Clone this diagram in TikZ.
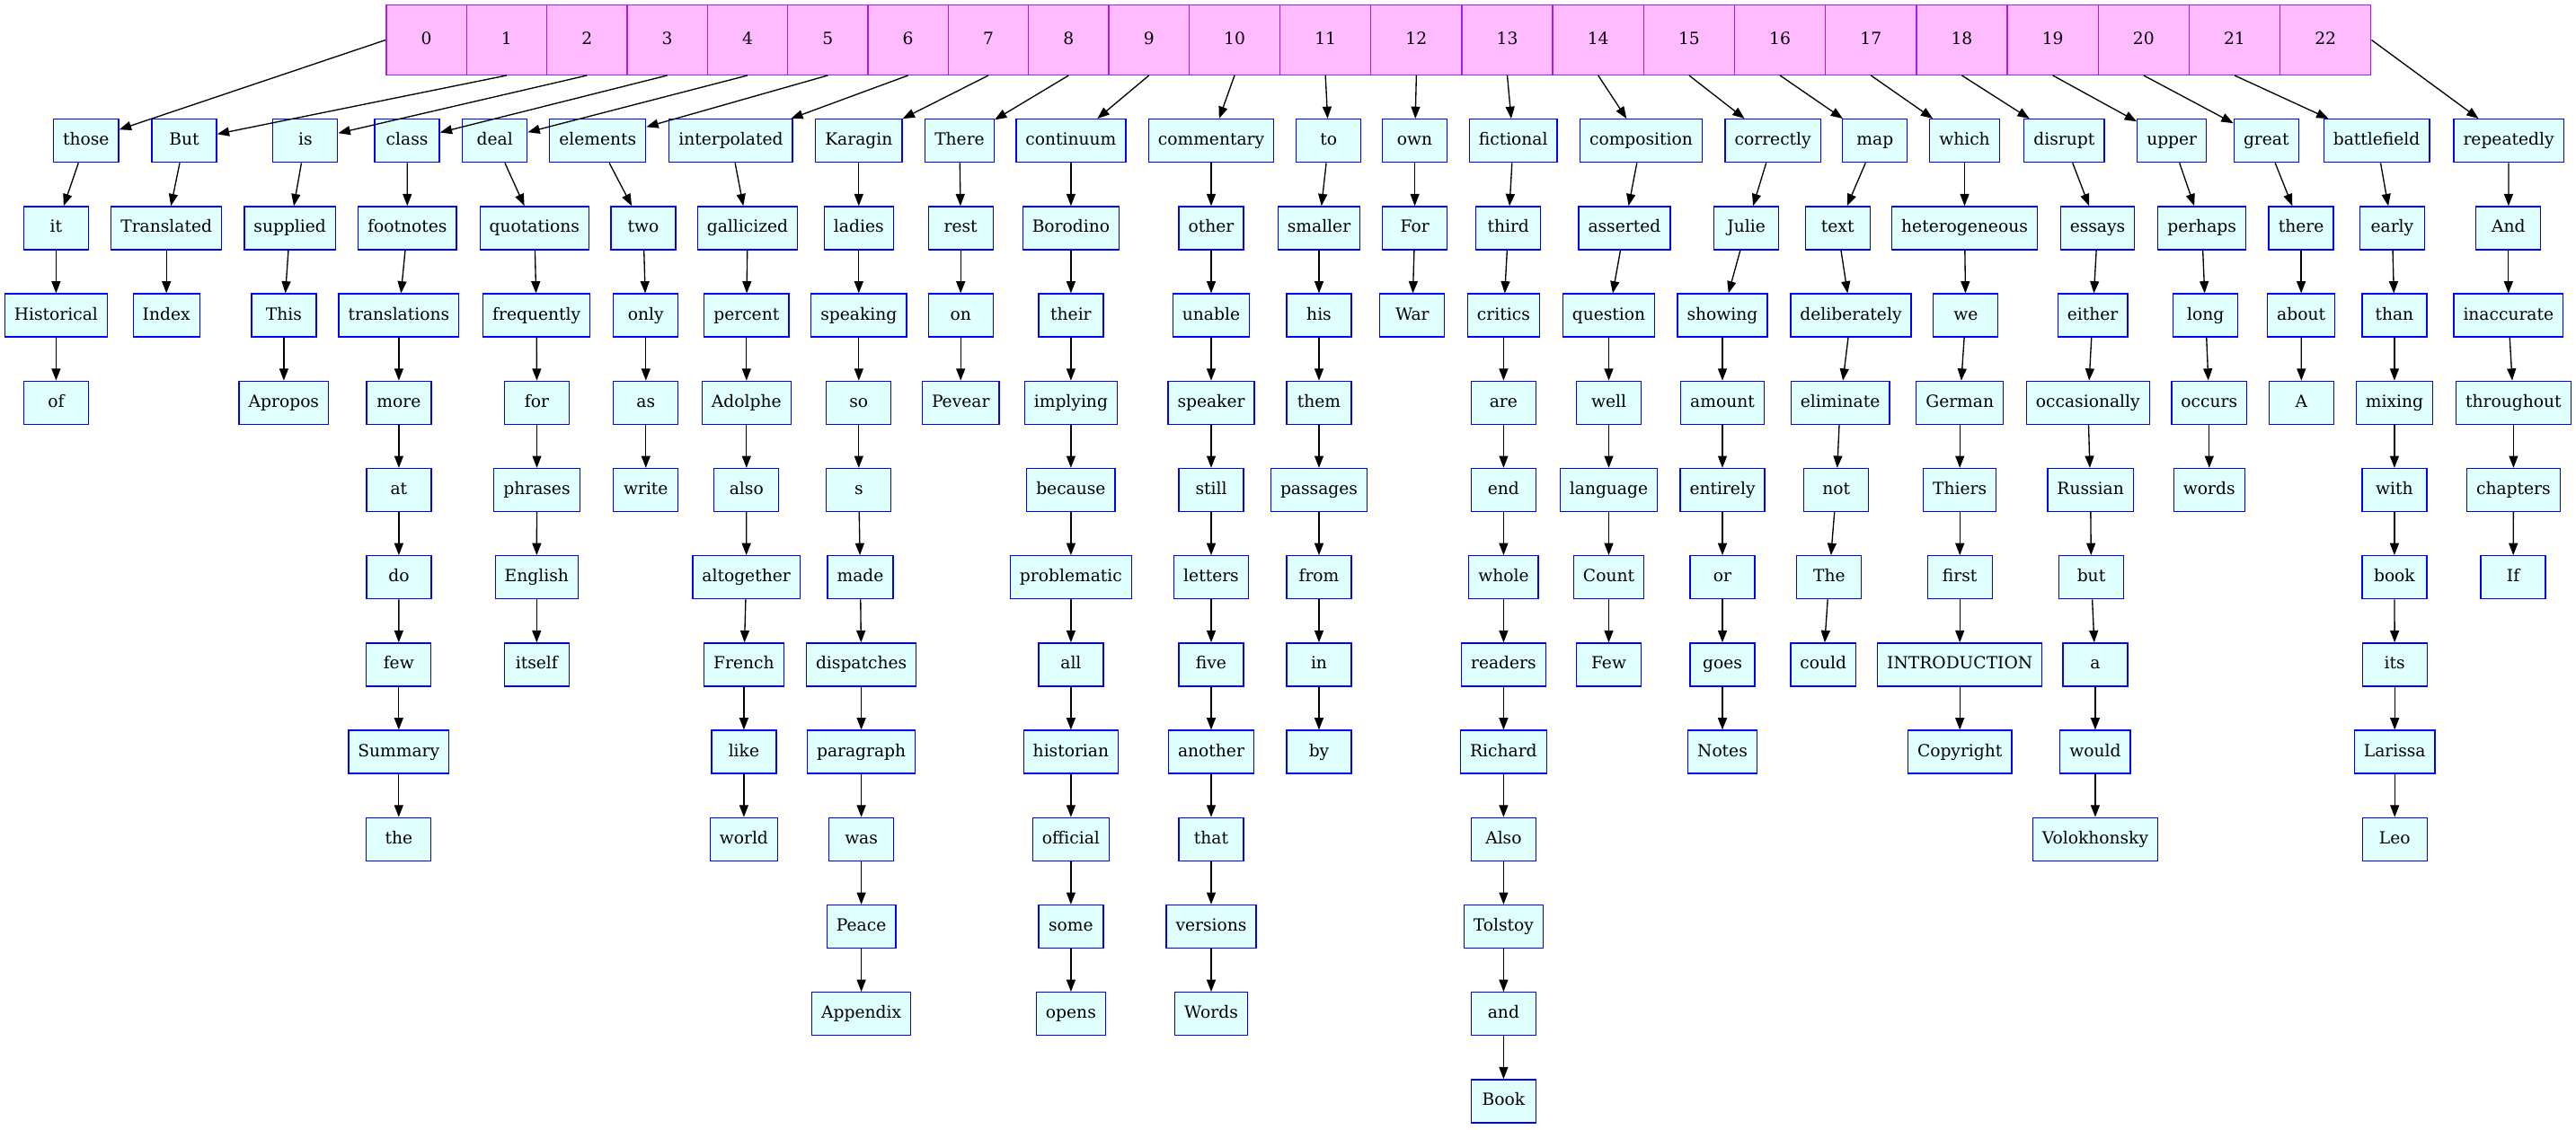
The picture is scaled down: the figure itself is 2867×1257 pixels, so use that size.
\documentclass[tikz,border=0pt]{standalone}
\usepackage{fontspec}
\setmainfont{DejaVu Serif}
\usetikzlibrary{arrows.meta}
\definecolor{boxfill}{HTML}{E0FFFF}
\definecolor{boxline}{HTML}{0000FF}
\definecolor{recfill}{HTML}{FFBBFF}
\definecolor{recline}{HTML}{A020F0}
\newcommand{\mkword}[4]{\node[wbox] (#1) at (#2,{156.7+97.2*#3}) {#4};}
\begin{document}
\begin{tikzpicture}[x=0.75pt,y=-0.75pt,
  wbox/.style={draw=boxline, fill=boxfill, line width=1pt, rectangle, minimum width=54pt, minimum height=36pt, inner xsep=7.92pt, inner ysep=0pt, text height=10pt, text depth=2.5pt, font=\fontsize{14}{16}\selectfont},
  rcell/.style={draw=recline, fill=recfill, line width=1pt, rectangle, minimum height=58.2pt, inner sep=0pt, text height=10pt, text depth=2.5pt, font=\fontsize{14}{16}\selectfont},
  edge/.style={draw=black, line width=1pt, -{Triangle[length=10pt,width=7.5pt]}}]
\useasboundingbox (0,0) rectangle (2867,1257);
% record
\foreach \i in {0,...,9} {\node[rcell, minimum width=67.01pt] (r\i) at ({429.9+89.35*(\i+0.5)},44.5) {\i};}
\foreach \i in {10,...,22} {\node[rcell, minimum width=75.89pt] (r\i) at ({1323.4+101.18*(\i-10+0.5)},44.5) {\i};}
% col 0
\mkword{c0-0}{95.8}{0}{those}
\mkword{c0-1}{62.4}{1}{it}
\mkword{c0-2}{62.4}{2}{Historical}
\mkword{c0-3}{62.4}{3}{of}
% col 1
\mkword{c1-0}{205.1}{0}{But}
\mkword{c1-1}{185.2}{1}{Translated}
\mkword{c1-2}{185.2}{2}{Index}
% col 2
\mkword{c2-0}{339.8}{0}{is}
\mkword{c2-1}{322.7}{1}{supplied}
\mkword{c2-2}{315.9}{2}{This}
\mkword{c2-3}{315.9}{3}{Apropos}
% col 3
\mkword{c3-0}{453.1}{0}{class}
\mkword{c3-1}{453.4}{1}{footnotes}
\mkword{c3-2}{443.9}{2}{translations}
\mkword{c3-3}{443.9}{3}{more}
\mkword{c3-4}{443.9}{4}{at}
\mkword{c3-5}{443.9}{5}{do}
\mkword{c3-6}{443.8}{6}{few}
\mkword{c3-7}{443.8}{7}{Summary}
\mkword{c3-8}{443.8}{8}{the}
% col 4
\mkword{c4-0}{550.7}{0}{deal}
\mkword{c4-1}{594.8}{1}{quotations}
\mkword{c4-2}{597.2}{2}{frequently}
\mkword{c4-3}{597.5}{3}{for}
\mkword{c4-4}{597.5}{4}{phrases}
\mkword{c4-5}{597.3}{5}{English}
\mkword{c4-6}{597.3}{6}{itself}
% col 5
\mkword{c5-0}{665.2}{0}{elements}
\mkword{c5-1}{716.0}{1}{two}
\mkword{c5-2}{718.8}{2}{only}
\mkword{c5-3}{718.8}{3}{as}
\mkword{c5-4}{718.8}{4}{write}
% col 6
\mkword{c6-0}{813.4}{0}{interpolated}
\mkword{c6-1}{832.0}{1}{gallicized}
\mkword{c6-2}{830.8}{2}{percent}
\mkword{c6-3}{830.8}{3}{Adolphe}
\mkword{c6-4}{830.8}{4}{also}
\mkword{c6-5}{830.6}{5}{altogether}
\mkword{c6-6}{827.9}{6}{French}
\mkword{c6-7}{827.9}{7}{like}
\mkword{c6-8}{827.9}{8}{world}
% col 7
\mkword{c7-0}{955.8}{0}{Karagin}
\mkword{c7-1}{955.8}{1}{ladies}
\mkword{c7-2}{955.8}{2}{speaking}
\mkword{c7-3}{955.8}{3}{so}
\mkword{c7-4}{955.8}{4}{s}
\mkword{c7-5}{957.5}{5}{made}
\mkword{c7-6}{958.6}{6}{dispatches}
\mkword{c7-7}{958.6}{7}{paragraph}
\mkword{c7-8}{958.6}{8}{was}
\mkword{c7-9}{958.6}{9}{Peace}
\mkword{c7-10}{958.6}{10}{Appendix}
% col 8
\mkword{c8-0}{1068.0}{0}{There}
\mkword{c8-1}{1069.2}{1}{rest}
\mkword{c8-2}{1069.2}{2}{on}
\mkword{c8-3}{1069.2}{3}{Pevear}
% col 9
\mkword{c9-0}{1191.9}{0}{continuum}
\mkword{c9-1}{1191.9}{1}{Borodino}
\mkword{c9-2}{1191.9}{2}{their}
\mkword{c9-3}{1191.9}{3}{implying}
\mkword{c9-4}{1191.9}{4}{because}
\mkword{c9-5}{1191.9}{5}{problematic}
\mkword{c9-6}{1191.9}{6}{all}
\mkword{c9-7}{1191.9}{7}{historian}
\mkword{c9-8}{1191.9}{8}{official}
\mkword{c9-9}{1191.9}{9}{some}
\mkword{c9-10}{1191.9}{10}{opens}
% col 10
\mkword{c10-0}{1348.0}{0}{commentary}
\mkword{c10-1}{1348.0}{1}{other}
\mkword{c10-2}{1348.0}{2}{unable}
\mkword{c10-3}{1348.0}{3}{speaker}
\mkword{c10-4}{1348.0}{4}{still}
\mkword{c10-5}{1348.0}{5}{letters}
\mkword{c10-6}{1348.0}{6}{five}
\mkword{c10-7}{1348.0}{7}{another}
\mkword{c10-8}{1348.0}{8}{that}
\mkword{c10-9}{1348.0}{9}{versions}
\mkword{c10-10}{1348.0}{10}{Words}
% col 11
\mkword{c11-0}{1478.8}{0}{to}
\mkword{c11-1}{1468.0}{1}{smaller}
\mkword{c11-2}{1468.0}{2}{his}
\mkword{c11-3}{1468.0}{3}{them}
\mkword{c11-4}{1468.0}{4}{passages}
\mkword{c11-5}{1468.0}{5}{from}
\mkword{c11-6}{1468.0}{6}{in}
\mkword{c11-7}{1468.0}{7}{by}
% col 12
\mkword{c12-0}{1574.6}{0}{own}
\mkword{c12-1}{1574.6}{1}{For}
\mkword{c12-2}{1571.8}{2}{War}
% col 13
\mkword{c13-0}{1684.2}{0}{fictional}
\mkword{c13-1}{1678.7}{1}{third}
\mkword{c13-2}{1673.4}{2}{critics}
\mkword{c13-3}{1673.4}{3}{are}
\mkword{c13-4}{1673.4}{4}{end}
\mkword{c13-5}{1673.4}{5}{whole}
\mkword{c13-6}{1673.4}{6}{readers}
\mkword{c13-7}{1673.4}{7}{Richard}
\mkword{c13-8}{1673.4}{8}{Also}
\mkword{c13-9}{1673.4}{9}{Tolstoy}
\mkword{c13-10}{1673.4}{10}{and}
\mkword{c13-11}{1673.4}{11}{Book}
% col 14
\mkword{c14-0}{1826.5}{0}{composition}
\mkword{c14-1}{1807.9}{1}{asserted}
\mkword{c14-2}{1790.5}{2}{question}
\mkword{c14-3}{1790.5}{3}{well}
\mkword{c14-4}{1790.5}{4}{language}
\mkword{c14-5}{1790.5}{5}{Count}
\mkword{c14-6}{1790.5}{6}{Few}
% col 15
\mkword{c15-0}{1973.2}{0}{correctly}
\mkword{c15-1}{1943.6}{1}{Julie}
\mkword{c15-2}{1917.0}{2}{showing}
\mkword{c15-3}{1917.0}{3}{amount}
\mkword{c15-4}{1917.0}{4}{entirely}
\mkword{c15-5}{1917.0}{5}{or}
\mkword{c15-6}{1917.0}{6}{goes}
\mkword{c15-7}{1917.0}{7}{Notes}
% col 16
\mkword{c16-0}{2086.8}{0}{map}
\mkword{c16-1}{2045.2}{1}{text}
\mkword{c16-2}{2060.0}{2}{deliberately}
\mkword{c16-3}{2048.1}{3}{eliminate}
\mkword{c16-4}{2043.7}{4}{not}
\mkword{c16-5}{2035.8}{5}{The}
\mkword{c16-6}{2029.2}{6}{could}
% col 17
\mkword{c17-0}{2186.5}{0}{which}
\mkword{c17-1}{2186.5}{1}{heterogeneous}
\mkword{c17-2}{2187.8}{2}{we}
\mkword{c17-3}{2181.2}{3}{German}
\mkword{c17-4}{2181.2}{4}{Thiers}
\mkword{c17-5}{2181.2}{5}{first}
\mkword{c17-6}{2181.2}{6}{INTRODUCTION}
\mkword{c17-7}{2181.2}{7}{Copyright}
% col 18
\mkword{c18-0}{2297.3}{0}{disrupt}
\mkword{c18-1}{2334.5}{1}{essays}
\mkword{c18-2}{2329.1}{2}{either}
\mkword{c18-3}{2323.8}{3}{occasionally}
\mkword{c18-4}{2326.6}{4}{Russian}
\mkword{c18-5}{2327.5}{5}{but}
\mkword{c18-6}{2331.9}{6}{a}
\mkword{c18-7}{2331.9}{7}{would}
\mkword{c18-8}{2331.9}{8}{Volokhonsky}
% col 19
\mkword{c19-0}{2417.2}{0}{upper}
\mkword{c19-1}{2450.6}{1}{perhaps}
\mkword{c19-2}{2454.7}{2}{long}
\mkword{c19-3}{2458.8}{3}{occurs}
\mkword{c19-4}{2458.8}{4}{words}
% col 20
\mkword{c20-0}{2522.3}{0}{great}
\mkword{c20-1}{2561.1}{1}{there}
\mkword{c20-2}{2561.1}{2}{about}
\mkword{c20-3}{2561.4}{3}{A}
% col 21
\mkword{c21-0}{2645.1}{0}{battlefield}
\mkword{c21-1}{2662.4}{1}{early}
\mkword{c21-2}{2664.9}{2}{than}
\mkword{c21-3}{2664.9}{3}{mixing}
\mkword{c21-4}{2664.9}{4}{with}
\mkword{c21-5}{2664.9}{5}{book}
\mkword{c21-6}{2665.2}{6}{its}
\mkword{c21-7}{2665.2}{7}{Larissa}
\mkword{c21-8}{2665.2}{8}{Leo}
% col 22
\mkword{c22-0}{2792.1}{0}{repeatedly}
\mkword{c22-1}{2791.8}{1}{And}
\mkword{c22-2}{2791.8}{2}{inaccurate}
\mkword{c22-3}{2797.4}{3}{throughout}
\mkword{c22-4}{2797.4}{4}{chapters}
\mkword{c22-5}{2797.1}{5}{If}
% edges from record
\draw[edge] (r0.west) -- (c0-0);
\foreach \j in {1,...,21} {\draw[edge] (r\j.south) -- (c\j-0);}
\draw[edge] (r22.east) -- (c22-0);
% chain edges
\foreach \j/\last in {0/3,1/2,2/3,3/8,4/6,5/4,6/8,7/10,8/3,9/10,10/10,11/7,12/2,13/11,14/6,15/7,16/6,17/7,18/8,19/4,20/3,21/8,22/5} {
  \foreach \k [evaluate=\k as \p using int(\k-1)] in {1,...,\last} {\draw[edge] (c\j-\p) -- (c\j-\k);}
}
\end{tikzpicture}
\end{document}
